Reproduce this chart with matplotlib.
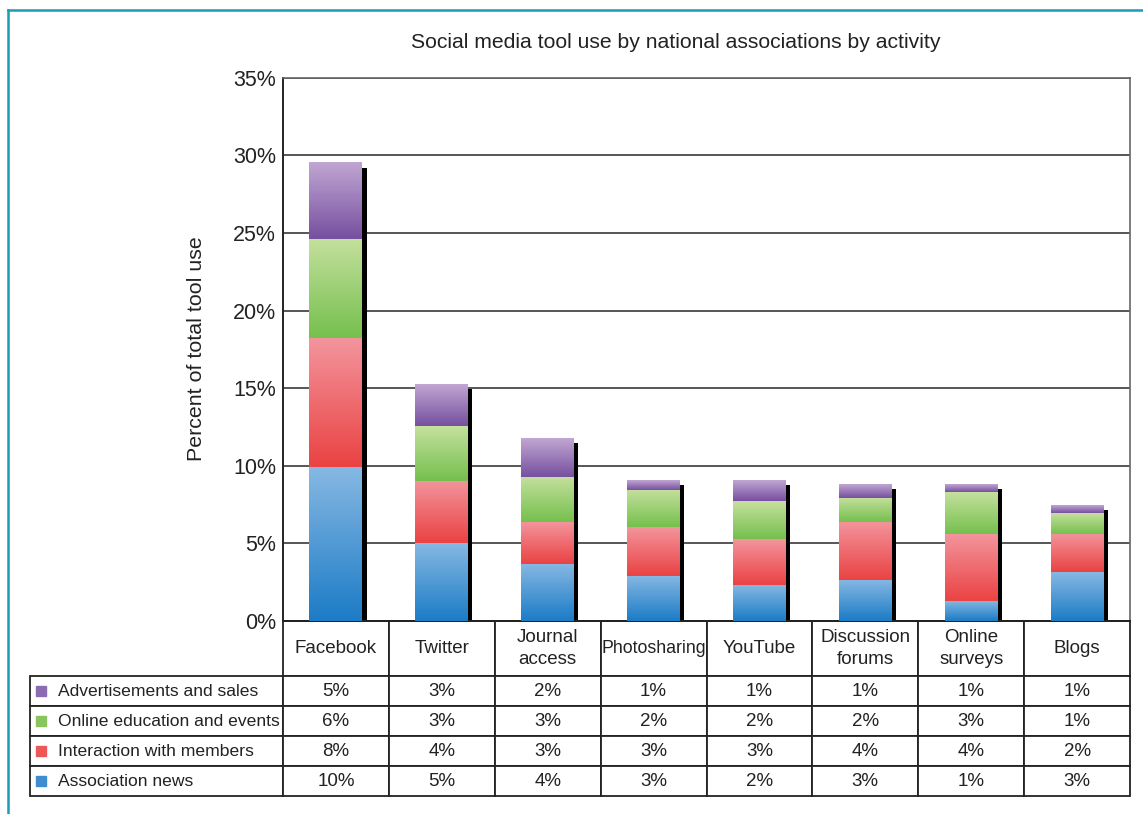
import numpy as np
import matplotlib
matplotlib.use("Agg")
import matplotlib.pyplot as plt
from matplotlib.colors import LinearSegmentedColormap
from matplotlib.lines import Line2D
import matplotlib.patheffects as pe

plt.rcParams["font.family"] = ["Liberation Sans", "DejaVu Sans"]

tools = ["Facebook", "Twitter", "Journal\naccess", "Photosharing", "YouTube",
         "Discussion\nforums", "Online\nsurveys", "Blogs"]
activities = ["Association news", "Interaction with members",
              "Online education and events", "Advertisements and sales"]

# bar heights (percent)
news = [9.9, 5.0, 3.7, 2.9, 2.35, 2.65, 1.3, 3.15]
interaction = [8.3, 4.05, 2.7, 3.15, 2.95, 3.75, 4.3, 2.45]
education = [6.4, 3.5, 2.9, 2.4, 2.4, 1.55, 2.7, 1.35]
adverts = [4.9, 2.7, 2.45, 0.6, 1.35, 0.85, 0.5, 0.5]

# rounded values printed in the table
news_txt = ["10%", "5%", "4%", "3%", "2%", "3%", "1%", "3%"]
interaction_txt = ["8%", "4%", "3%", "3%", "3%", "4%", "4%", "2%"]
education_txt = ["6%", "3%", "3%", "2%", "2%", "2%", "3%", "1%"]
adverts_txt = ["5%", "3%", "2%", "1%", "1%", "1%", "1%", "1%"]

yticks = [0, 5, 10, 15, 20, 25, 30, 35]

# gradient (dark bottom, light top) and legend swatch colours
grads = [("#1c7cc6", "#86b8e3"), ("#ea4343", "#f3949c"),
         ("#76c04e", "#c4e09d"), ("#7750a0", "#c0a6d2")]
swatch = ["#3f8ccf", "#ee5757", "#88c55c", "#8d6bb0"]

W, H = 1143, 814
fig = plt.figure(figsize=(W / 100, H / 100), dpi=100)
ax_l, ax_r, ax_t, ax_b = 283, 1130, 77.7, 621
ax = fig.add_axes([ax_l / W, 1 - ax_b / H, (ax_r - ax_l) / W, (ax_b - ax_t) / H])

x = np.arange(len(tools))
series = [news, interaction, education, adverts]
totals = np.sum(series, axis=0)

# drop shadow behind each stack
ax.bar(x, totals, width=0.5, facecolor="none", edgecolor="none", zorder=2,
       path_effects=[pe.SimplePatchShadow(offset=(3, -3.5), shadow_rgbFace="black", alpha=1.0)])

bottom = np.zeros(len(tools))
for vals, (dark, light) in zip(series, grads):
    bars = ax.bar(x, vals, bottom=bottom, width=0.5, facecolor="none", edgecolor="none", zorder=3)
    cmap = LinearSegmentedColormap.from_list("g", [dark, light])
    grad = np.linspace(0, 1, 64).reshape(-1, 1)
    for b in bars:
        x0, y0 = b.get_x(), b.get_y()
        ax.imshow(grad, cmap=cmap, origin="lower", aspect="auto", interpolation="bilinear",
                  extent=[x0, x0 + b.get_width(), y0, y0 + b.get_height()], zorder=3)
    bottom += np.array(vals)

ax.set_xlim(-0.5, len(tools) - 0.5)
ax.set_ylim(0, 35)
ax.set_yticks(yticks)
ax.set_yticklabels([f"{t}%" for t in yticks], fontsize=15.5, color="#222222")
ax.set_xticks([])
ax.tick_params(axis="y", length=0, pad=5)
ax.grid(axis="y", color="#3a3a3a", linewidth=1.2)
ax.set_axisbelow(True)
for s in ["top", "right"]:
    ax.spines[s].set_color("#666666")
    ax.spines[s].set_linewidth(1.2)
for s in ["left", "bottom"]:
    ax.spines[s].set_color("#222222")
    ax.spines[s].set_linewidth(1.4)

# data table under the bars (sizes in axes fractions; label column hangs left)
cell_text = [adverts_txt, education_txt, interaction_txt, news_txt]
row_labels = activities[::-1]
axw, axh = ax_r - ax_l, ax_b - ax_t
lab_w, col_w, head_h, row_h = 253 / axw, 1 / len(tools), 55 / axh, 30 / axh
tab_h = head_h + 4 * row_h
tbl = ax.table(cellText=cell_text, colLabels=tools, cellLoc="center",
               bbox=[0, -tab_h, 1, tab_h])
for r, lab in enumerate(row_labels, start=1):
    tbl.add_cell(r, -1, width=lab_w, height=row_h, text=lab, loc="left")
tbl.auto_set_font_size(False)
for (r, c), cell in tbl.get_celld().items():
    cell.set_edgecolor("#222222")
    cell.set_linewidth(1.3)
    cell.set_height(head_h if r == 0 else row_h)
    cell.set_width(lab_w if c == -1 else col_w)
    txt = cell.get_text()
    txt.set_fontsize(12.6 if c == -1 else 13.5)
    txt.set_color("#222222")
    if r == 0:
        txt.set_linespacing(1.45)
        if tools[c] == "Photosharing":
            txt.set_fontsize(12.8)
    if c == -1:
        cell.PAD = 0.11

# legend swatches in the row label cells
for i, col in enumerate(swatch[::-1]):
    yc = head_h + row_h * (i + 0.5)
    ax.plot([(41 - ax_l) / axw], [-yc], marker="s", markersize=7.5,
            color=col, transform=ax.transAxes, clip_on=False, linestyle="none")

fig.text(676 / W, 1 - 42 / H, "Social media tool use by national associations by activity",
         ha="center", va="center", fontsize=15.2, color="#222222")
fig.text(197 / W, 1 - 349 / H, "Percent of total tool use", rotation=90,
         ha="center", va="center", fontsize=15.4, color="#222222")

# teal frame at top/left
fc = "#1b9bb8"
fig.add_artist(Line2D([8 / W, 8 / W], [0, 1 - 10 / H], color=fc, linewidth=1.8))
fig.add_artist(Line2D([8 / W, 1], [1 - 10 / H, 1 - 10 / H], color=fc, linewidth=1.8))

fig.savefig("out.png", dpi=100)
